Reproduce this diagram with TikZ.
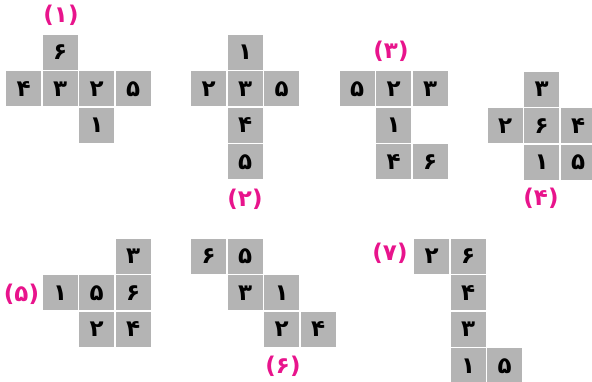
\documentclass[tikz,border=0pt]{standalone}
\usepackage{fontspec}
\newfontfamily\pfont{DejaVu Sans}
\definecolor{cellgray}{RGB}{180,180,180}
\definecolor{labmag}{RGB}{232,20,140}
\tikzset{
  cell/.style={fill=cellgray, draw=none, minimum size=35pt, inner sep=0pt, anchor=north west,
    font=\pfont\bfseries\fontsize{23}{23}\selectfont, text=black},
  lab/.style={font=\pfont\bfseries\fontsize{23}{23}\selectfont, text=labmag, inner sep=0pt}
}
\begin{document}
\begin{tikzpicture}[x=1pt,y=-1pt]
\useasboundingbox (0,0) rectangle (592,381);
% figure 1
\foreach \c/\r/\d/\n in {1/0/۶/a,0/1/۴/b,1/1/۳/c,2/1/۲/d,3/1/۵/e,2/2/۱/f}
  \node[cell] (fA\n) at ({6+36.5*\c},{34.5+36.5*\r}) {\d};
\node[lab] (lA) at (61,15) {(۱)};
% figure 2
\foreach \c/\r/\d/\n in {1/0/۱/a,0/1/۲/b,1/1/۳/c,2/1/۵/d,1/2/۴/e,1/3/۵/f}
  \node[cell] (fB\n) at ({191+36.5*\c},{34.5+36.5*\r}) {\d};
\node[lab] (lB) at (245,199) {(۲)};
% figure 3
\foreach \c/\r/\d/\n in {0/0/۵/a,1/0/۲/b,2/0/۳/c,1/1/۱/d,1/2/۴/e,2/2/۶/f}
  \node[cell] (fC\n) at ({339.5+36.5*\c},{71+36.5*\r}) {\d};
\node[lab] (lC) at (391,51.5) {(۳)};
% figure 4
\foreach \c/\r/\d/\n in {1/0/۳/a,0/1/۲/b,1/1/۶/c,2/1/۴/d,1/2/۱/e,2/2/۵/f}
  \node[cell] (fD\n) at ({487.5+36.5*\c},{71.5+36.5*\r}) {\d};
\node[lab] (lD) at (541,198) {(۴)};
% figure 5
\foreach \c/\r/\d/\n in {2/0/۳/a,0/1/۱/b,1/1/۵/c,2/1/۶/d,1/2/۲/e,2/2/۴/f}
  \node[cell] (fE\n) at ({42.5+36.5*\c},{238.5+36.5*\r}) {\d};
\node[lab] (lE) at (21.5,294) {(۵)};
% figure 6
\foreach \c/\r/\d/\n in {0/0/۶/a,1/0/۵/b,1/1/۳/c,2/1/۱/d,2/2/۲/e,3/2/۴/f}
  \node[cell] (fF\n) at ({191+36.5*\c},{238.5+36.5*\r}) {\d};
\node[lab] (lF) at (283,366.5) {(۶)};
% figure 7
\foreach \c/\r/\d/\n in {0/0/۲/a,1/0/۶/b,1/1/۴/c,1/2/۳/d,1/3/۱/e,2/3/۵/f}
  \node[cell] (fG\n) at ({414+36.5*\c},{238.5+36.5*\r}) {\d};
\node[lab] (lG) at (390,253) {(۷)};
\end{tikzpicture}
\end{document}
